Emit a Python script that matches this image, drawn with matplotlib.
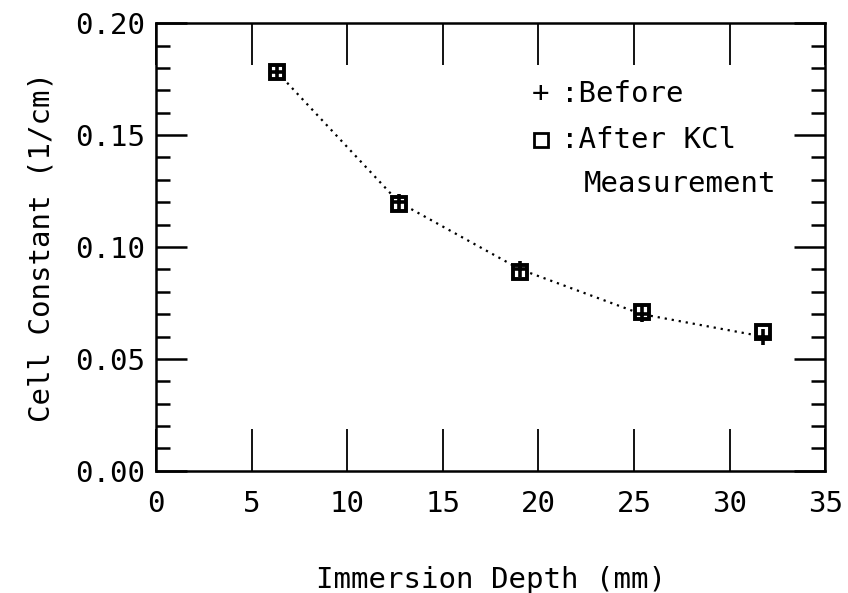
import matplotlib.pyplot as plt
from matplotlib.ticker import MultipleLocator

# Data (immersion depth in mm, cell constant in 1/cm)
depth = [6.35, 12.7, 19.05, 25.4, 31.75]
before = [0.178, 0.120, 0.090, 0.070, 0.060]
after = [0.178, 0.119, 0.089, 0.071, 0.062]

plt.rcParams['font.family'] = ['DejaVu Sans Mono']
fs = 21

fig = plt.figure(figsize=(8.48, 5.93), dpi=100)
ax = fig.add_axes([0.184, 0.206, 0.789, 0.755])

# dotted curve through the points
ax.plot(depth, before, color='black', linestyle=(0, (1, 2.2)), linewidth=1.6)
ax.plot(depth, after, linestyle='none', marker='s', markersize=10,
        markerfacecolor='white', markeredgecolor='black', markeredgewidth=2.8)
ax.plot(depth, before, linestyle='none', marker='+', markersize=11,
        markeredgecolor='black', markeredgewidth=2.6)

ax.set_xlim(0, 35)
ax.set_ylim(0, 0.20)
ax.xaxis.set_major_locator(MultipleLocator(5))
ax.yaxis.set_major_locator(MultipleLocator(0.05))
ax.yaxis.set_minor_locator(MultipleLocator(0.01))
ax.yaxis.set_major_formatter(plt.FuncFormatter(lambda v, p: f'{v:.2f}'))

ax.tick_params(axis='x', which='major', direction='in', length=30, width=1.3,
               top=True, bottom=True, labelsize=fs, pad=14)
ax.tick_params(axis='y', which='major', direction='in', length=22, width=1.8,
               left=True, right=True, labelsize=fs, pad=8)
ax.tick_params(axis='y', which='minor', direction='in', length=10, width=1.8,
               left=True, right=True)
for s in ax.spines.values():
    s.set_linewidth(1.8)

ax.set_xlabel('Immersion Depth (mm)', fontsize=fs, labelpad=34)
ax.set_ylabel('Cell Constant (1/cm)', fontsize=fs, labelpad=14)

# in-plot key
ax.text(0.575, 0.842, '+', transform=ax.transAxes, fontsize=fs, ha='center', va='center')
ax.text(0.605, 0.842, ':Before', transform=ax.transAxes, fontsize=fs, va='center')
ax.plot([0.575], [0.74], transform=ax.transAxes, marker='s', markersize=10,
        markerfacecolor='white', markeredgecolor='black', markeredgewidth=2)
ax.text(0.605, 0.74, ':After KCl', transform=ax.transAxes, fontsize=fs, va='center')
ax.text(0.64, 0.64, 'Measurement', transform=ax.transAxes, fontsize=fs, va='center')

fig.savefig('out.png', dpi=100)
